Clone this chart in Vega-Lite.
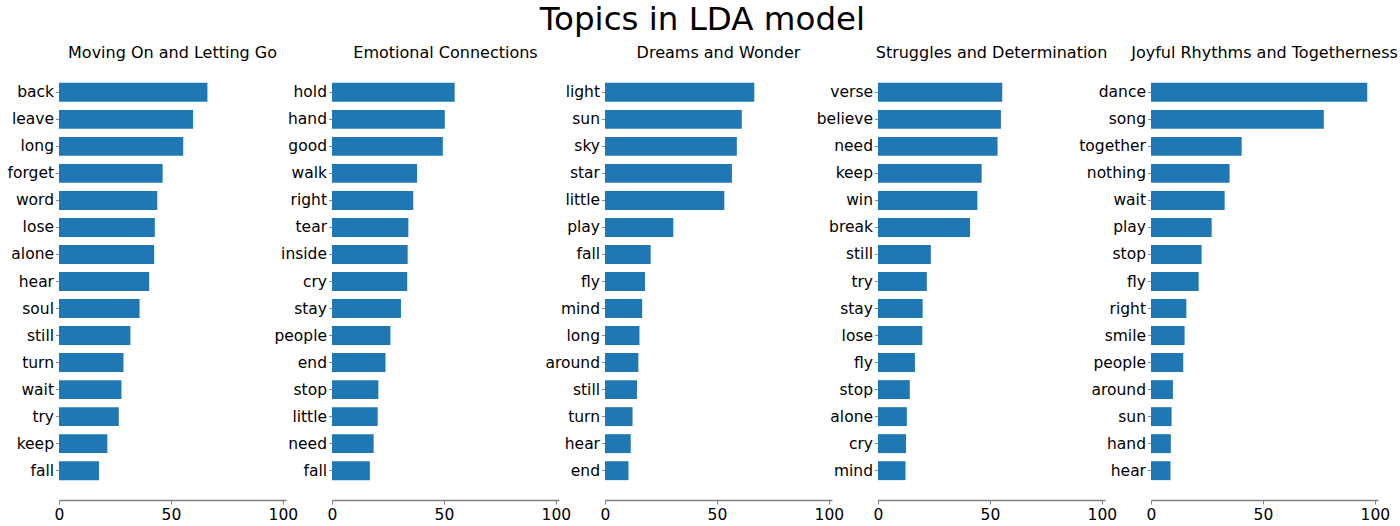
{
  "$schema": "https://vega.github.io/schema/vega-lite/v6.json",
  "background": "white",
  "padding": {"left": 7, "top": 3, "right": 2, "bottom": 4},
  "title": {"text": "Topics in LDA model", "fontSize": 32.5, "font": "DejaVu Sans", "fontWeight": "normal", "anchor": "middle", "color": "black", "offset": 9},
  "data": {"values": [
    {"topic": "Moving On and Letting Go", "word": "back", "value": 66.3},
    {"topic": "Moving On and Letting Go", "word": "leave", "value": 59.9},
    {"topic": "Moving On and Letting Go", "word": "long", "value": 55.5},
    {"topic": "Moving On and Letting Go", "word": "forget", "value": 46.3},
    {"topic": "Moving On and Letting Go", "word": "word", "value": 43.9},
    {"topic": "Moving On and Letting Go", "word": "lose", "value": 42.8},
    {"topic": "Moving On and Letting Go", "word": "alone", "value": 42.5},
    {"topic": "Moving On and Letting Go", "word": "hear", "value": 40.3},
    {"topic": "Moving On and Letting Go", "word": "soul", "value": 36.0},
    {"topic": "Moving On and Letting Go", "word": "still", "value": 31.9},
    {"topic": "Moving On and Letting Go", "word": "turn", "value": 28.8},
    {"topic": "Moving On and Letting Go", "word": "wait", "value": 27.9},
    {"topic": "Moving On and Letting Go", "word": "try", "value": 26.7},
    {"topic": "Moving On and Letting Go", "word": "keep", "value": 21.6},
    {"topic": "Moving On and Letting Go", "word": "fall", "value": 17.9},
    {"topic": "Emotional Connections", "word": "hold", "value": 54.8},
    {"topic": "Emotional Connections", "word": "hand", "value": 50.4},
    {"topic": "Emotional Connections", "word": "good", "value": 49.5},
    {"topic": "Emotional Connections", "word": "walk", "value": 38.0},
    {"topic": "Emotional Connections", "word": "right", "value": 36.3},
    {"topic": "Emotional Connections", "word": "tear", "value": 34.1},
    {"topic": "Emotional Connections", "word": "inside", "value": 33.8},
    {"topic": "Emotional Connections", "word": "cry", "value": 33.6},
    {"topic": "Emotional Connections", "word": "stay", "value": 30.8},
    {"topic": "Emotional Connections", "word": "people", "value": 26.1},
    {"topic": "Emotional Connections", "word": "end", "value": 23.9},
    {"topic": "Emotional Connections", "word": "stop", "value": 20.7},
    {"topic": "Emotional Connections", "word": "little", "value": 20.4},
    {"topic": "Emotional Connections", "word": "need", "value": 18.6},
    {"topic": "Emotional Connections", "word": "fall", "value": 16.9},
    {"topic": "Dreams and Wonder", "word": "light", "value": 66.7},
    {"topic": "Dreams and Wonder", "word": "sun", "value": 61.1},
    {"topic": "Dreams and Wonder", "word": "sky", "value": 58.9},
    {"topic": "Dreams and Wonder", "word": "star", "value": 56.7},
    {"topic": "Dreams and Wonder", "word": "little", "value": 53.3},
    {"topic": "Dreams and Wonder", "word": "play", "value": 30.5},
    {"topic": "Dreams and Wonder", "word": "fall", "value": 20.4},
    {"topic": "Dreams and Wonder", "word": "fly", "value": 17.9},
    {"topic": "Dreams and Wonder", "word": "mind", "value": 16.6},
    {"topic": "Dreams and Wonder", "word": "long", "value": 15.4},
    {"topic": "Dreams and Wonder", "word": "around", "value": 14.9},
    {"topic": "Dreams and Wonder", "word": "still", "value": 14.3},
    {"topic": "Dreams and Wonder", "word": "turn", "value": 12.3},
    {"topic": "Dreams and Wonder", "word": "hear", "value": 11.5},
    {"topic": "Dreams and Wonder", "word": "end", "value": 10.5},
    {"topic": "Struggles and Determination", "word": "verse", "value": 55.5},
    {"topic": "Struggles and Determination", "word": "believe", "value": 54.9},
    {"topic": "Struggles and Determination", "word": "need", "value": 53.4},
    {"topic": "Struggles and Determination", "word": "keep", "value": 46.3},
    {"topic": "Struggles and Determination", "word": "win", "value": 44.4},
    {"topic": "Struggles and Determination", "word": "break", "value": 41.1},
    {"topic": "Struggles and Determination", "word": "still", "value": 23.6},
    {"topic": "Struggles and Determination", "word": "try", "value": 21.8},
    {"topic": "Struggles and Determination", "word": "stay", "value": 19.95},
    {"topic": "Struggles and Determination", "word": "lose", "value": 19.8},
    {"topic": "Struggles and Determination", "word": "fly", "value": 16.5},
    {"topic": "Struggles and Determination", "word": "stop", "value": 14.2},
    {"topic": "Struggles and Determination", "word": "alone", "value": 12.9},
    {"topic": "Struggles and Determination", "word": "cry", "value": 12.5},
    {"topic": "Struggles and Determination", "word": "mind", "value": 12.3},
    {"topic": "Joyful Rhythms and Togetherness", "word": "dance", "value": 96.6},
    {"topic": "Joyful Rhythms and Togetherness", "word": "song", "value": 77.2},
    {"topic": "Joyful Rhythms and Togetherness", "word": "together", "value": 40.5},
    {"topic": "Joyful Rhythms and Togetherness", "word": "nothing", "value": 35.1},
    {"topic": "Joyful Rhythms and Togetherness", "word": "wait", "value": 32.9},
    {"topic": "Joyful Rhythms and Togetherness", "word": "play", "value": 27.1},
    {"topic": "Joyful Rhythms and Togetherness", "word": "stop", "value": 22.6},
    {"topic": "Joyful Rhythms and Togetherness", "word": "fly", "value": 21.3},
    {"topic": "Joyful Rhythms and Togetherness", "word": "right", "value": 15.8},
    {"topic": "Joyful Rhythms and Togetherness", "word": "smile", "value": 15.0},
    {"topic": "Joyful Rhythms and Togetherness", "word": "people", "value": 14.4},
    {"topic": "Joyful Rhythms and Togetherness", "word": "around", "value": 9.8},
    {"topic": "Joyful Rhythms and Togetherness", "word": "sun", "value": 9.2},
    {"topic": "Joyful Rhythms and Togetherness", "word": "hand", "value": 8.85},
    {"topic": "Joyful Rhythms and Togetherness", "word": "hear", "value": 8.7}
  ]},
  "spacing": 46,
  "bounds": "flush",
  "hconcat": [
    {"title": "Moving On and Letting Go", "width": 227, "height": 437,
     "transform": [{"filter": "datum.topic === 'Moving On and Letting Go'"}],
     "mark": {"type": "bar", "color": "#1f77b4"},
     "encoding": {
       "y": {"field": "word", "type": "nominal", "sort": {"field": "value", "order": "descending"}, "title": null, "scale": {"paddingInner": 0.3, "paddingOuter": 0.735}},
       "x": {"field": "value", "type": "quantitative", "title": null, "scale": {"domain": [0, 101.4], "nice": false}, "axis": {"values": [0, 50, 100]}}
     }},
    {"title": "Emotional Connections", "width": 227, "height": 437,
     "transform": [{"filter": "datum.topic === 'Emotional Connections'"}],
     "mark": {"type": "bar", "color": "#1f77b4"},
     "encoding": {
       "y": {"field": "word", "type": "nominal", "sort": {"field": "value", "order": "descending"}, "title": null, "scale": {"paddingInner": 0.3, "paddingOuter": 0.735}},
       "x": {"field": "value", "type": "quantitative", "title": null, "scale": {"domain": [0, 101.4], "nice": false}, "axis": {"values": [0, 50, 100]}}
     }},
    {"title": "Dreams and Wonder", "width": 227, "height": 437,
     "transform": [{"filter": "datum.topic === 'Dreams and Wonder'"}],
     "mark": {"type": "bar", "color": "#1f77b4"},
     "encoding": {
       "y": {"field": "word", "type": "nominal", "sort": {"field": "value", "order": "descending"}, "title": null, "scale": {"paddingInner": 0.3, "paddingOuter": 0.735}},
       "x": {"field": "value", "type": "quantitative", "title": null, "scale": {"domain": [0, 101.4], "nice": false}, "axis": {"values": [0, 50, 100]}}
     }},
    {"title": "Struggles and Determination", "width": 227, "height": 437,
     "transform": [{"filter": "datum.topic === 'Struggles and Determination'"}],
     "mark": {"type": "bar", "color": "#1f77b4"},
     "encoding": {
       "y": {"field": "word", "type": "nominal", "sort": {"field": "value", "order": "descending"}, "title": null, "scale": {"paddingInner": 0.3, "paddingOuter": 0.735}},
       "x": {"field": "value", "type": "quantitative", "title": null, "scale": {"domain": [0, 101.4], "nice": false}, "axis": {"values": [0, 50, 100]}}
     }},
    {"title": "Joyful Rhythms and Togetherness", "width": 227, "height": 437,
     "transform": [{"filter": "datum.topic === 'Joyful Rhythms and Togetherness'"}],
     "mark": {"type": "bar", "color": "#1f77b4"},
     "encoding": {
       "y": {"field": "word", "type": "nominal", "sort": {"field": "value", "order": "descending"}, "title": null, "scale": {"paddingInner": 0.3, "paddingOuter": 0.735}},
       "x": {"field": "value", "type": "quantitative", "title": null, "scale": {"domain": [0, 101.4], "nice": false}, "axis": {"values": [0, 50, 100]}}
     }}
  ],
  "config": {
    "font": "DejaVu Sans",
    "view": {"stroke": null},
    "title": {"font": "DejaVu Sans", "fontSize": 16, "fontWeight": "normal", "color": "black", "anchor": "middle", "offset": 2},
    "axis": {"labelFont": "DejaVu Sans", "labelFontSize": 15.5, "labelColor": "black", "grid": false, "tickColor": "#444", "domainColor": "#808080", "tickSize": 4, "labelPadding": 2},
    "axisY": {"domain": false, "tickColor": "#888", "tickSize": 3.5},
    "axisX": {"domain": true, "domainWidth": 1.5, "labelPadding": 3, "tickColor": "#808080", "labelFlush": false, "labelOverlap": false}
  }
}
